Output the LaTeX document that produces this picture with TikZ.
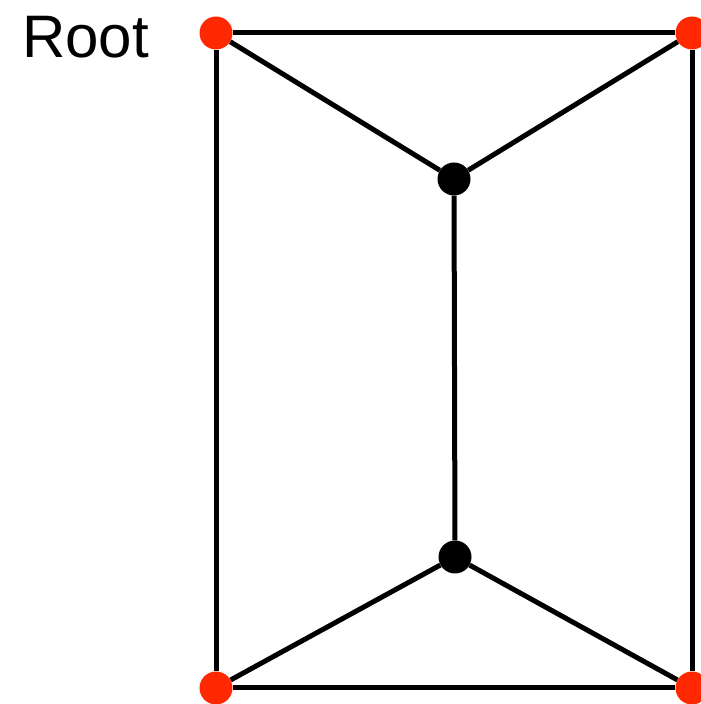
\documentclass[tikz,border=0pt]{standalone}
\usepackage{fontspec}
\setmainfont{Liberation Sans}
\begin{document}
\begin{tikzpicture}[x=1pt,y=1pt,
  rootdot/.style={circle,fill={rgb,255:red,255;green,40;blue,0},minimum size=33pt,inner sep=0pt},
  innerdot/.style={circle,fill=black,minimum size=33pt,inner sep=0pt},
  edge/.style={line width=5pt,black}]
\useasboundingbox (0,0) rectangle (701,704);
\node[rootdot] (ntl) at (216,671) {};
\node[rootdot] (ntr) at (692,671) {};
\node[rootdot] (nbl) at (216,16) {};
\node[rootdot] (nbr) at (692,16) {};
\node[innerdot] (nit) at (454,525) {};
\node[innerdot] (nib) at (455,147) {};
\draw[edge] (ntl) -- (ntr);
\draw[edge] (ntr) -- (nbr);
\draw[edge] (nbr) -- (nbl);
\draw[edge] (nbl) -- (ntl);
\draw[edge] (ntl) -- (nit);
\draw[edge] (nit) -- (ntr);
\draw[edge] (nit) -- (nib);
\draw[edge] (nbl) -- (nib);
\draw[edge] (nib) -- (nbr);
\node[anchor=base west,inner sep=0pt,font=\fontsize{60}{72}\selectfont] (root) at (22,646) {Root};
\end{tikzpicture}
\end{document}
